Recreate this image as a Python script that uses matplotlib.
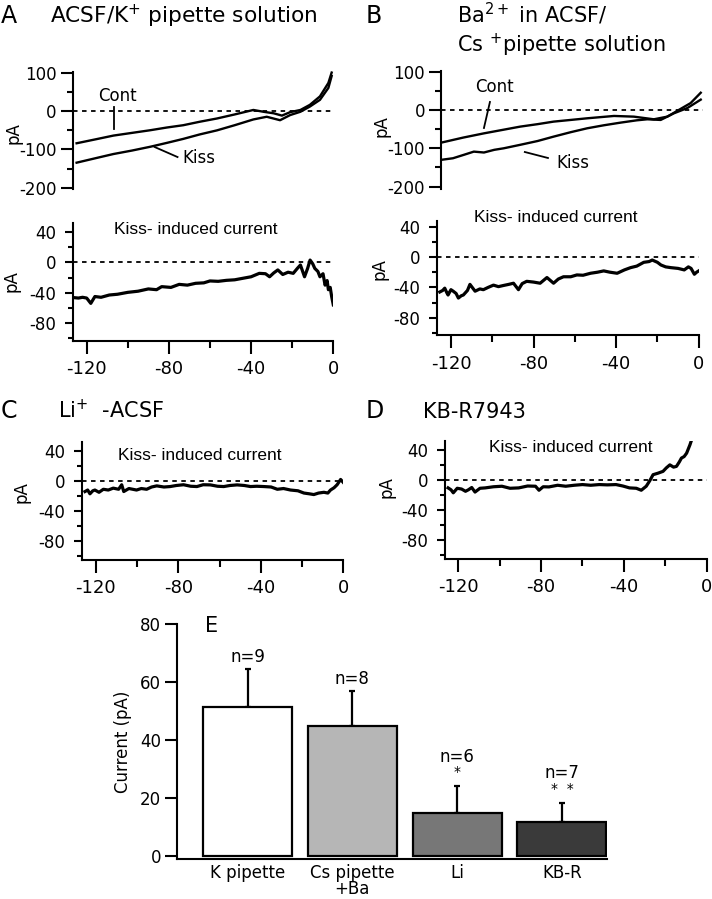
import matplotlib
matplotlib.use("Agg")
import matplotlib.pyplot as plt

# ---------------- data ----------------
# Panel A (ACSF / K+ pipette) I-V ramps
a_cont_v = [-124.9, -115, -107, -98, -89, -81, -73, -65, -56.6, -48, -38.9, -34, -29, -25, -21, -16, -11.4, -6.5, -2.4, -0.8]
a_cont_i = [-84, -73, -64, -57, -50, -43, -37, -28, -19.5, -9, 2.7, -2, -6, -12, -3, 2.7, 16, 38, 73, 100]
a_kiss_v = [-124.9, -115, -107, -98, -89, -81, -73, -65, -56.6, -48, -38.9, -32.4, -25.9, -21, -16, -11.4, -6.5, -2.4, -0.8]
a_kiss_i = [-134.5, -122, -112, -103, -93, -83, -72.6, -61, -50.4, -37, -22, -15, -24, -10.6, -2, 11.5, 29, 60, 91]
a_diff_v = [-126, -124, -122, -120, -118, -116, -113, -109, -105, -100, -95, -90, -86, -83.5, -79, -75, -71, -67, -63, -60, -56, -52, -48, -44, -40, -36, -33, -31, -29, -27, -24.6, -22, -19.5, -17.5, -16, -14, -12.5, -11.3, -10, -9, -7.5, -6.5, -5, -4, -3, -2.4, -1.5, -0.8, 0]
a_diff_i = [-46.5, -47, -46, -47, -54, -45, -46, -43, -42, -39.5, -38, -35, -36, -32, -33, -29, -30, -27.6, -27, -24.5, -25, -23.7, -23, -21, -19, -14.5, -15, -19, -14, -10, -16, -13, -14.5, -8, -3.5, -19, -8, 3, -2, -8, -12, -19, -15, -30, -24, -36, -33, -45, -56]

# Panel B (Ba2+ in ACSF / Cs+ pipette)
b_cont_v = [-124.5, -114, -104, -95, -86.5, -78, -70.3, -62, -54, -41, -31.4, -21.7, -15.2, -8.7, -3.9, 1]
b_cont_i = [-85, -72, -61, -52, -43.5, -37, -30.4, -26, -21.7, -15.6, -17.4, -24.3, -17.4, 3, 18, 45]
b_kiss_v = [-124.5, -119, -113.7, -108.9, -104, -99, -94.4, -86.5, -78, -70.3, -62, -54, -46, -37.8, -30, -24.9, -18.4, -12, -5.5, 1]
b_kiss_i = [-130, -126, -117, -108.7, -111, -104, -100, -91, -81, -69.6, -58, -47.8, -40, -33, -27, -24.3, -26, -8.7, 5, 27]
b_diff_v = [-125.4, -124, -123, -122, -121.4, -120, -118.9, -117.5, -116.4, -115, -114, -112, -110.8, -108.3, -106, -104.3, -102, -99.4, -97, -94.6, -92, -89.7, -87.3, -85.5, -83.3, -80, -76.8, -73.5, -70.3, -68, -65.5, -62, -59, -56, -52.4, -49, -46, -43, -39.5, -36, -33, -30, -26.6, -24, -22.5, -20, -18.3, -16, -13.5, -10, -7, -5, -3.7, -2.1, -1, 0]
b_diff_i = [-46, -44, -41, -47, -50, -43, -45, -48, -54, -51, -50, -44, -36, -45, -42, -43, -40, -37, -39, -37.5, -36, -34.5, -43, -35, -32, -33, -34.5, -27, -34.5, -29, -26, -26, -23.6, -24, -21.4, -20, -18.3, -20, -21.4, -17, -14, -12, -7, -6, -4, -7, -10.5, -13, -14, -15, -17, -13, -15, -22.7, -20, -18.3]

# Panel C (Li+ ACSF)
c_diff_v = [-125.3, -124, -122.9, -121.5, -120.5, -118.5, -116.4, -114, -111.6, -109, -107.5, -106.5, -104, -100.3, -98, -95.4, -93, -90.5, -87, -84, -81, -77.5, -74, -71, -68, -64.5, -61, -58, -55, -51.5, -48, -45, -42, -38.5, -35, -32, -29, -25.6, -22, -19.1, -16.5, -14.3, -12, -9.4, -7.5, -6.2, -4.5, -3, -1.3, 0]
c_diff_i = [-14, -12, -17, -13, -12, -15, -11, -12, -9.5, -11, -5, -14, -10, -12, -10, -11, -8, -6.5, -8, -7.4, -6, -5, -7, -7.4, -5, -5.2, -7, -7.4, -6, -5.2, -6, -7.4, -7, -7.4, -8, -11, -10, -12, -13, -16, -17, -18, -16, -15, -16, -12, -9, -5, 2, -2]

# Panel D (KB-R7943)
d_diff_v = [-124.9, -123.5, -122.4, -120.5, -118.4, -116.5, -115.1, -113.5, -111.9, -109.5, -107, -103, -98.9, -95, -90.8, -86.5, -82.7, -81, -79, -76.2, -72, -68.1, -64, -60, -56, -51.9, -48, -43.8, -40.5, -37.3, -34, -31.6, -29.2, -27.5, -25.9, -23.5, -21.1, -19.5, -17.8, -16, -14.6, -13.2, -12.2, -10.9, -9.7, -8.1, -7.3]
d_diff_i = [-10.5, -13, -17, -11, -12, -15, -13, -10, -16, -11, -10.5, -9, -8.3, -11, -10.5, -8, -8.3, -13.6, -9, -9.2, -7, -8.3, -7, -6.1, -7, -6.1, -6.5, -6.1, -8, -10.5, -11, -13.6, -8.3, -1, 7, 9, 11.4, 16, 20, 17, 18, 24, 29, 31, 35.5, 46.5, 53]

# Panel E (summary)
e_categories = ["K pipette", "Cs pipette\n+Ba", "Li", "KB-R"]
e_means = [51.5, 45.0, 14.8, 11.9]
e_errors = [13.0, 11.8, 9.2, 6.3]
e_n = ["n=9", "n=8", "n=6", "n=7"]
e_sig = ["", "", "*", "**"]
e_colors = ["#ffffff", "#b6b6b6", "#777777", "#3a3a3a"]

# ---------------- layout helpers ----------------
W, H = 712, 899
fig = plt.figure(figsize=(W / 100, H / 100), dpi=100)
FONT = "DejaVu Sans"
plt.rcParams["font.family"] = FONT
plt.rcParams["mathtext.fontset"] = "dejavusans"


def px_axes(left, top, right, bottom):
    return fig.add_axes([left / W, 1 - bottom / H, (right - left) / W, (bottom - top) / H])


def ftext(x, y, s, **kw):
    fig.text(x / W, 1 - y / H, s, **kw)


LW_SPINE = 1.5
LW_TRACE = 1.7


def style_top(ax, xlim, ylim):
    ax.set_xlim(*xlim)
    ax.set_ylim(*ylim)
    for s in ["top", "right", "bottom"]:
        ax.spines[s].set_visible(False)
    ax.spines["left"].set_linewidth(LW_SPINE)
    ax.set_xticks([])
    ax.set_yticks([100, 0, -100, -200])
    ax.set_yticks([50, -50, -150], minor=True)
    ax.tick_params(axis="y", which="major", length=8.5, width=LW_SPINE, labelsize=12, pad=3)
    ax.tick_params(axis="y", which="minor", length=4, width=LW_SPINE)
    ax.patch.set_alpha(0)
    ax.axhline(0, color="black", lw=1.3, ls=(0, (2.5, 2.5)), zorder=1)


def style_bottom(ax, xlim, ylim):
    ax.set_xlim(*xlim)
    ax.set_ylim(*ylim)
    for s in ["top", "right"]:
        ax.spines[s].set_visible(False)
    ax.spines["left"].set_linewidth(LW_SPINE)
    ax.spines["bottom"].set_linewidth(LW_SPINE)
    ax.set_yticks([40, 0, -40, -80])
    ax.set_yticks([20, -20, -60, -100], minor=True)
    ax.set_xticks([-120, -80, -40, 0])
    ax.set_xticks([-100, -60, -20], minor=True)
    ax.tick_params(axis="y", which="major", length=6, width=LW_SPINE, labelsize=12, pad=6)
    ax.tick_params(axis="y", which="minor", length=3.5, width=LW_SPINE)
    ax.tick_params(axis="x", which="major", length=9, width=LW_SPINE, labelsize=13, pad=5)
    ax.tick_params(axis="x", which="minor", length=5, width=LW_SPINE)
    ax.set_xticklabels(["-120", "-80", "-40", "0"])
    ax.set_yticklabels(["40", "0", "-40", "-80"])
    ax.patch.set_alpha(0)
    ax.axhline(0, color="black", lw=1.3, ls=(0, (2.5, 2.5)), zorder=1)


# ---------------- Panel A ----------------
axA1 = px_axes(72.7, 71.8, 333.3, 189)
style_top(axA1, (-126.8, 0), (-203, 102))
axA1.set_yticklabels(["100", "0", "-100", "-200"])
axA1.plot(a_cont_v, a_cont_i, color="black", lw=LW_TRACE, clip_on=False)
axA1.plot(a_kiss_v, a_kiss_i, color="black", lw=LW_TRACE, clip_on=False)
axA1.text(-104.9, 39, "Cont", fontsize=12, ha="center", va="center")
axA1.plot([-106.7, -106.7], [10.4, -46.9], color="black", lw=1.3)
axA1.text(-65.6, -122, "Kiss", fontsize=12, ha="center", va="center")
axA1.plot([-86.9, -75.8], [-93.8, -119.8], color="black", lw=1.3)

axA2 = px_axes(72.7, 222.8, 333.3, 341)
style_bottom(axA2, (-126.8, 0), (-103.5, 52))
axA2.plot(a_diff_v, a_diff_i, color="black", lw=LW_TRACE + 0.6)

ftext(1, 23, "A", fontsize=17, ha="left", va="baseline")
ftext(50, 23, "ACSF/K$^{+}$ pipette solution", fontsize=15.6, ha="left", va="baseline")
ftext(13, 133, "pA", fontsize=12, rotation=90, ha="center", va="center")
ftext(12, 281, "pA", fontsize=12, rotation=90, ha="center", va="center")
ftext(196, 230, "Kiss- induced current", fontsize=12.5, family="Liberation Sans", ha="center", va="center")

# ---------------- Panel B ----------------
axB1 = px_axes(441, 70.9, 702.8, 188.9)
style_top(axB1, (-124.8, 2), (-206, 102))
axB1.set_yticklabels(["100", "0", "-100", "-200"])
axB1.plot(b_cont_v, b_cont_i, color="black", lw=LW_TRACE, clip_on=False)
axB1.plot(b_kiss_v, b_kiss_i, color="black", lw=LW_TRACE, clip_on=False)
axB1.text(-98.7, 60, "Cont", fontsize=12, ha="center", va="center")
axB1.plot([-101.1, -104], [20.9, -47], color="black", lw=1.3)
axB1.text(-60.9, -138, "Kiss", fontsize=12, ha="center", va="center")
axB1.plot([-84.2, -73], [-109.7, -125.3], color="black", lw=1.3)

axB2 = px_axes(436.7, 220.5, 698.7, 335.3)
style_bottom(axB2, (-126.9, 0), (-103, 48))
axB2.plot(b_diff_v, b_diff_i, color="black", lw=LW_TRACE + 0.6)

ftext(366, 23, "B", fontsize=17, ha="left", va="baseline")
ftext(457, 23, "Ba$^{2+}$ in ACSF/", fontsize=15, ha="left", va="baseline")
ftext(457, 52, "Cs $^{+}$pipette solution", fontsize=15, ha="left", va="baseline")
ftext(381, 126, "pA", fontsize=12, rotation=90, ha="center", va="center")
ftext(379, 269, "pA", fontsize=12, rotation=90, ha="center", va="center")
ftext(556, 218, "Kiss- induced current", fontsize=12.5, family="Liberation Sans", ha="center", va="center")

# ---------------- Panel C ----------------
axC = px_axes(81.7, 441.7, 343.3, 559.5)
style_bottom(axC, (-126.9, 0), (-104, 52))
axC.plot(c_diff_v, c_diff_i, color="black", lw=LW_TRACE + 0.6)
ftext(1, 418, "C", fontsize=17, ha="left", va="baseline")
ftext(58, 418, "Li$^{+}$  -ACSF", fontsize=15, ha="left", va="baseline")
ftext(22, 492, "pA", fontsize=12, rotation=90, ha="center", va="center")
ftext(200, 455, "Kiss- induced current", fontsize=12.5, family="Liberation Sans", ha="center", va="center")

# ---------------- Panel D ----------------
axD = px_axes(445, 440.7, 706.7, 558.5)
style_bottom(axD, (-126.4, 0), (-104, 52))
axD.plot(d_diff_v, d_diff_i, color="black", lw=LW_TRACE + 0.6)
ftext(366, 418, "D", fontsize=17, ha="left", va="baseline")
ftext(423, 418, "KB-R7943", fontsize=15, ha="left", va="baseline")
ftext(386, 487, "pA", fontsize=12, rotation=90, ha="center", va="center")
ftext(571, 448, "Kiss- induced current", fontsize=12.5, family="Liberation Sans", ha="center", va="center")

# ---------------- Panel E ----------------
axE = px_axes(177, 624.3, 607, 858.9)
pos = list(range(len(e_categories)))
axE.bar(pos, e_means, width=0.85, color=e_colors, edgecolor="black", linewidth=1.6, zorder=2)
axE.errorbar(pos, e_means, yerr=[[0] * len(e_means), e_errors], fmt="none",
             ecolor="black", elinewidth=1.6, capsize=2.5, capthick=1.6, zorder=1)
for p, m, e, n, s in zip(pos, e_means, e_errors, e_n, e_sig):
    top = m + e
    if s:
        axE.text(p, top + 5.0, "  ".join(s) if len(s) > 1 else s, ha="center", va="center", fontsize=10)
        axE.text(p, top + 10.3, n, ha="center", va="center", fontsize=12)
    else:
        axE.text(p, top + 4.3, n, ha="center", va="center", fontsize=12)
axE.set_xlim(-0.673, 3.43)
axE.set_ylim(-1, 80)
axE.set_yticks([0, 20, 40, 60, 80])
axE.set_xticks(pos)
axE.set_xticklabels(e_categories, fontsize=12, linespacing=0.85)
axE.tick_params(axis="x", length=0, pad=4)
axE.tick_params(axis="y", length=8.5, width=LW_SPINE, labelsize=12, pad=3)
for s in ["top", "right"]:
    axE.spines[s].set_visible(False)
axE.spines["left"].set_linewidth(LW_SPINE)
axE.spines["bottom"].set_linewidth(LW_SPINE)
axE.set_ylabel("Current (pA)", fontsize=12, labelpad=6)
axE.patch.set_alpha(0)
ftext(205, 632, "E", fontsize=15, ha="left", va="baseline")

fig.savefig("out.png", dpi=100)
